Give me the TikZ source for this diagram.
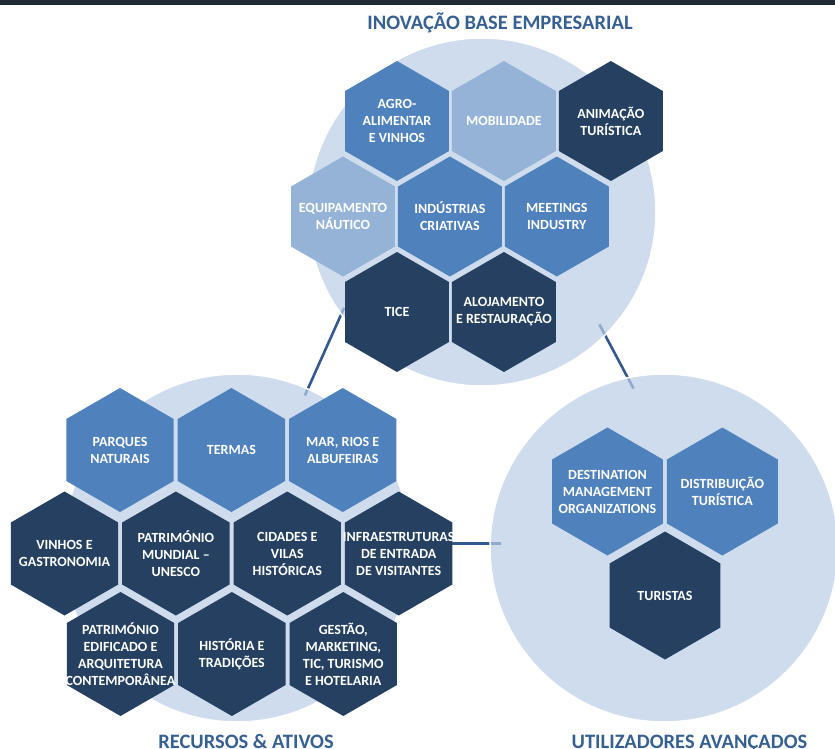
\documentclass[tikz,border=0pt]{standalone}
\usepackage{fontspec}
\setmainfont{Carlito}
\usepackage{xcolor}
\usetikzlibrary{positioning, shapes.geometric, backgrounds}

\definecolor{midblue}{RGB}{79,129,189}
\definecolor{paleblue}{RGB}{149,179,215}
\definecolor{navy}{RGB}{37,64,97}
\definecolor{ringblue}{RGB}{185,205,229}
\definecolor{linkblue}{RGB}{52,88,145}
\definecolor{titleblue}{RGB}{55,96,146}
\definecolor{topbar}{RGB}{34,42,56}

\begin{document}
\begin{tikzpicture}[x=1pt, y=-1pt,
	hexa/.style={regular polygon, regular polygon sides=6, shape border rotate=30, inner sep=0pt, outer sep=0pt, draw=none},
	hextext/.style={text=white, align=center, font=\bfseries\fontsize{14}{17}\selectfont},
	ring/.style={circle, minimum size=348pt, inner sep=0pt, outer sep=0pt, fill=ringblue, fill opacity=0.7, draw=white, line width=1.5pt},
	link/.style={draw=linkblue, line width=2.6pt},
	heading/.style={anchor=base, text=titleblue, font=\bfseries\fontsize{20.5}{24}\selectfont}]
	\useasboundingbox (0,0) rectangle (835,749);
	\fill[topbar] (0,0) rectangle (835,5);

	\node[ring] (c1) at (482,212) {};
	\node[ring] (c2) at (237,548) {};
	\node[ring] (c3) at (664,548) {};

	\node[hexa, minimum size=120pt, fill=midblue, label={[hextext]center:{AGRO-\\ALIMENTAR\\E VINHOS}}] (ib1) at (397,121) {};
	\node[hexa, minimum size=120pt, fill=paleblue, right=3pt of ib1, label={[hextext]center:{MOBILIDADE}}] (ib2) {};
	\node[hexa, minimum size=120pt, fill=navy, right=3pt of ib2, label={[hextext]center:{ANIMAÇÃO\\TURÍSTICA}}] (ib3) {};
	\node[hexa, minimum size=120pt, fill=paleblue, label={[hextext]center:{EQUIPAMENTO\\NÁUTICO}}] (ib4) at (343,216.5) {};
	\node[hexa, minimum size=120pt, fill=midblue, right=3pt of ib4, label={[hextext]center:{INDÚSTRIAS\\CRIATIVAS}}] (ib5) {};
	\node[hexa, minimum size=120pt, fill=midblue, right=3pt of ib5, label={[hextext]center:{MEETINGS\\INDUSTRY}}] (ib6) {};
	\node[hexa, minimum size=120pt, fill=navy, label={[hextext]center:{TICE}}] (ib7) at (397,312) {};
	\node[hexa, minimum size=120pt, fill=navy, right=3pt of ib7, label={[hextext]center:{ALOJAMENTO\\E RESTAURAÇÃO}}] (ib8) {};

	\node[hexa, minimum size=124pt, fill=midblue, label={[hextext]center:{PARQUES\\NATURAIS}}] (ra1) at (120,450) {};
	\node[hexa, minimum size=124pt, fill=midblue, right=4pt of ra1, label={[hextext]center:{TERMAS}}] (ra2) {};
	\node[hexa, minimum size=124pt, fill=midblue, right=4pt of ra2, label={[hextext]center:{MAR, RIOS E\\ALBUFEIRAS}}] (ra3) {};
	\node[hexa, minimum size=124pt, fill=navy, label={[hextext]center:{VINHOS E\\GASTRONOMIA}}] (ra4) at (64.5,553.5) {};
	\node[hexa, minimum size=124pt, fill=navy, right=4pt of ra4, label={[hextext]center:{PATRIMÓNIO\\MUNDIAL --\\UNESCO}}] (ra5) {};
	\node[hexa, minimum size=124pt, fill=navy, right=4pt of ra5, label={[hextext]center:{CIDADES E\\VILAS\\HISTÓRICAS}}] (ra6) {};
	\node[hexa, minimum size=124pt, fill=navy, right=4pt of ra6, label={[hextext]center:{INFRAESTRUTURAS\\DE ENTRADA\\DE VISITANTES}}] (ra7) {};
	\node[hexa, minimum size=124pt, fill=navy, label={[hextext]center:{PATRIMÓNIO\\EDIFICADO E\\ARQUITETURA\\CONTEMPORÂNEA}}] (ra8) at (120.5,654) {};
	\node[hexa, minimum size=124pt, fill=navy, right=4pt of ra8, label={[hextext]center:{HISTÓRIA E\\TRADIÇÕES}}] (ra9) {};
	\node[hexa, minimum size=124pt, fill=navy, right=4pt of ra9, label={[hextext]center:{GESTÃO,\\MARKETING,\\TIC, TURISMO\\E HOTELARIA}}] (ra10) {};

	\node[hexa, minimum size=128pt, fill=midblue, label={[hextext]center:{DESTINATION\\MANAGEMENT\\ORGANIZATIONS}}] (ua1) at (607.5,491.5) {};
	\node[hexa, minimum size=128pt, fill=midblue, right=4pt of ua1, label={[hextext]center:{DISTRIBUIÇÃO\\TURÍSTICA}}] (ua2) {};
	\node[hexa, minimum size=128pt, fill=navy, label={[hextext]center:{TURISTAS}}] (ua3) at (665,595.5) {};

	\node[heading] (t1) at (500,30) {INOVAÇÃO BASE EMPRESARIAL};
	\node[heading] (t2) at (246,748) {RECURSOS \& ATIVOS};
	\node[heading] (t3) at (689.5,748) {UTILIZADORES AVANÇADOS};

	\coordinate (j1) at ([yshift=10pt]ra7.east);
	\begin{scope}[on background layer]
		\draw[link, shorten <=-7pt, shorten >=-7pt] (c1.216) -- (c2.66);
		\draw[link, shorten <=-12pt, shorten >=-12pt] (c1.315) -- (c3.102);
		\draw[link, shorten >=-11pt] (j1) -- (j1 -| c3.west);
	\end{scope}
\end{tikzpicture}
\end{document}
